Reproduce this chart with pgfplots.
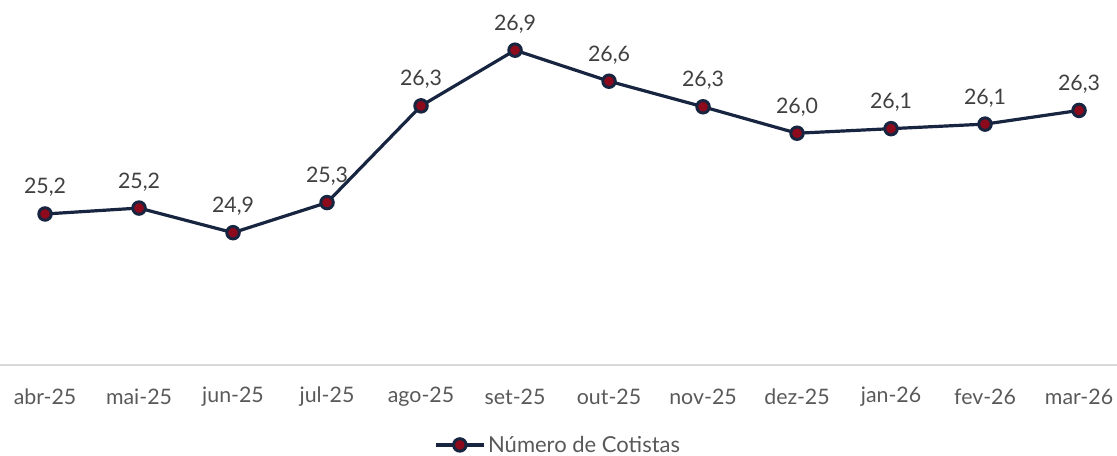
\documentclass[border=0pt]{standalone}
\usepackage{pgfplots}
\pgfplotsset{compat=1.18}
\usepackage{fontspec}
\setmainfont{Lato}
\definecolor{navy}{HTML}{172540}
\definecolor{dred}{HTML}{8C0A1C}
\definecolor{lblgray}{HTML}{404040}
\definecolor{tickgray}{HTML}{595959}
\definecolor{axgray}{HTML}{D9D9D9}
\begin{document}
\begin{tikzpicture}
\path[use as bounding box] (0,-67.5pt) rectangle (837.75pt,273.75pt);
\begin{axis}[
  at={(0,0)}, anchor=south west,
  scale only axis,
  width=837.75pt, height=273.75pt,
  xmin=-0.479, xmax=11.404,
  ymin=23.5, ymax=27.5,
  axis x line*=bottom,
  axis y line=none,
  axis line style={-, draw=axgray, line width=1.5pt},
  xtick={0,...,11},
  xticklabels={abr-25,mai-25,jun-25,jul-25,ago-25,set-25,out-25,nov-25,dez-25,jan-26,fev-26,mar-26},
  major tick length=0pt,
  xticklabel style={font=\fontsize{16}{19}\selectfont, text=tickgray, anchor=center, yshift=-24pt},
  clip=false,
  nodes near coords,
  point meta=explicit symbolic,
  nodes near coords style={font=\fontsize{16}{19}\selectfont, text=lblgray, anchor=base, yshift=15pt},
  legend style={at={(0.5,-0.219)}, anchor=center, draw=none, fill=none,
    font=\fontsize{16.5}{19}\selectfont, text=tickgray, legend cell align=left},
  legend image code/.code={\draw[mark repeat=2,mark phase=2,#1] plot coordinates {(0pt,0pt) (18pt,0pt) (36pt,0pt)};},
]
\addplot[color=navy, line width=2.4pt, mark=*, mark size=4.7pt,
  mark options={fill=dred, draw=navy, line width=2.2pt}]
  coordinates {
  (0,25.155) [25,2]
  (1,25.22) [25,2]
  (2,24.95) [24,9]
  (3,25.28) [25,3]
  (4,26.34) [26,3]
  (5,26.95) [26,9]
  (6,26.61) [26,6]
  (7,26.33) [26,3]
  (8,26.04) [26,0]
  (9,26.09) [26,1]
  (10,26.14) [26,1]
  (11,26.29) [26,3]
  };
\addlegendentry{Número de Cotistas}
\end{axis}
\end{tikzpicture}
\end{document}
